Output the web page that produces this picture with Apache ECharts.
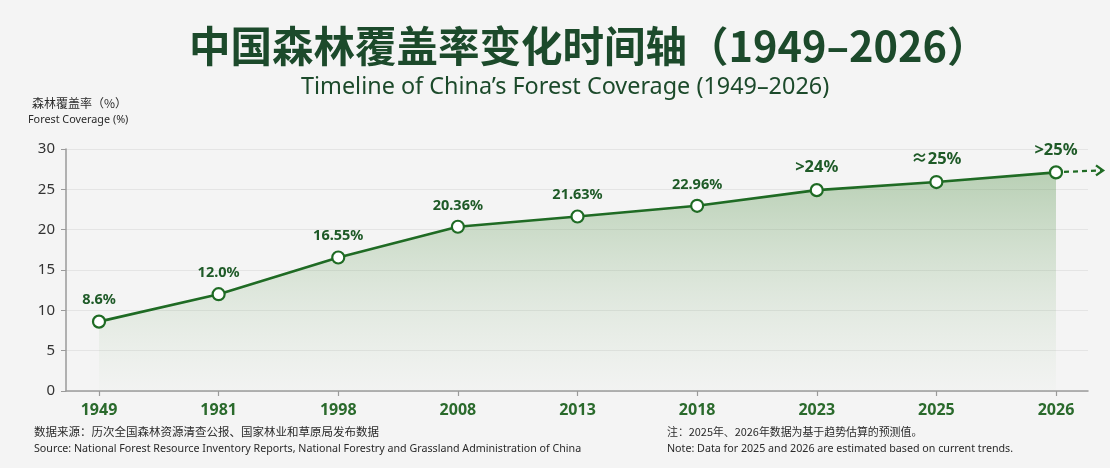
<!DOCTYPE html>
<html>
<head>
<meta charset="utf-8">
<script src="https://cdn.jsdelivr.net/npm/echarts@6/dist/echarts.min.js"></script>
<style>
html,body{margin:0;padding:0;background:#f4f4f4;}
#c{width:1110px;height:468px;}
</style>
</head>
<body>
<div id="c"></div>
<script>
const categories = ['1949', '1981', '1998', '2008', '2013', '2018', '2023', '2025', '2026'];
const coverage = [8.6, 12.0, 16.55, 20.36, 21.63, 22.96, 24.9, 25.9, 27.1];
const pointLabels = ['8.6%', '12.0%', '16.55%', '20.36%', '21.63%', '22.96%', '>24%', '≈25%', '>25%'];
const yMin = 0, yMax = 30, yStep = 5;

const titleText = '中国森林覆盖率变化时间轴（1949–2026）';
const subtitleText = 'Timeline of China’s Forest Coverage (1949–2026)';
const yNameCn = '森林覆盖率（%）';
const yNameEn = 'Forest Coverage (%)';
const sourceCn = '数据来源：历次全国森林资源清查公报、国家林业和草原局发布数据';
const sourceEn = 'Source: National Forest Resource Inventory Reports, National Forestry and Grassland Administration of China';
const noteCn = '注：2025年、2026年数据为基于趋势估算的预测值。';
const noteEn = 'Note: Data for 2025 and 2026 are estimated based on current trends.';

const CJK = '"Noto Sans CJK SC", "Noto Sans", sans-serif';
const LAT = '"Noto Sans", "Noto Sans CJK SC", sans-serif';
const GREEN = '#1f6b24';
const DARK = '#1c4a2b';

const chart = echarts.init(document.getElementById('c'), null, {renderer: 'canvas'});

const seriesData = coverage.map((v, i) => {
  const rough = /^[>≈<]/.test(pointLabels[i]);
  return {
    value: v,
    label: {formatter: pointLabels[i], fontSize: rough ? 16.5 : 14.5}
  };
});

const small = (text, left, top, fam, size) => ({
  text: text, left: left, top: top, padding: 0,
  textStyle: {fontFamily: fam, fontSize: size, fontWeight: 'normal', color: '#2a2a2a'}
});

const option = {
  backgroundColor: '#f4f4f4',
  animation: false,
  title: [
    {text: titleText, left: 189, top: 25, padding: 0,
     textStyle: {fontFamily: CJK, fontSize: 41.5, fontWeight: 'bold', color: DARK}},
    {text: subtitleText, left: 301, top: 76, padding: 0,
     textStyle: {fontFamily: LAT, fontSize: 23.4, fontWeight: 'normal', color: DARK}},
    small(yNameCn, 32, 97, CJK, 12),
    small(yNameEn, 28, 115, LAT, 10.8),
    small(sourceCn, 34, 426, CJK, 11.5),
    small(sourceEn, 34, 444, LAT, 10.7),
    small(noteCn, 667, 426, CJK, 10.9),
    small(noteEn, 667, 444, LAT, 10.7)
  ],
  grid: [
    {left: 66, right: 22, top: 149, bottom: 77},
    {left: 99, right: 54, top: 149, bottom: 77}
  ],
  xAxis: [
    {gridIndex: 0, type: 'value', min: 0, max: 1,
     axisLine: {show: true, onZero: false, lineStyle: {color: '#9a9a9a', width: 1.5}},
     axisTick: {show: false}, axisLabel: {show: false}, splitLine: {show: false}},
    {gridIndex: 1, type: 'category', data: categories, boundaryGap: false,
     axisLine: {show: false},
     axisTick: {show: true, length: 5, lineStyle: {color: '#9a9a9a', width: 1.2}},
     axisLabel: {fontFamily: LAT, fontSize: 16, fontWeight: 'bold', color: '#2a6a2c', margin: 11},
     splitLine: {show: false}}
  ],
  yAxis: [
    {gridIndex: 0, type: 'value', min: yMin, max: yMax, interval: yStep,
     axisLine: {show: true, lineStyle: {color: '#9a9a9a', width: 1.5}},
     axisTick: {show: true, length: 5, lineStyle: {color: '#9a9a9a'}},
     axisLabel: {fontFamily: LAT, fontSize: 15, color: '#333', margin: 11},
     splitLine: {show: true, lineStyle: {color: '#e4e4e4', width: 1}}},
    {gridIndex: 1, type: 'value', min: yMin, max: yMax, interval: yStep, show: false}
  ],
  series: [{
    type: 'line',
    xAxisIndex: 1,
    yAxisIndex: 1,
    data: seriesData,
    symbol: 'circle',
    symbolSize: 12,
    lineStyle: {color: GREEN, width: 2.6},
    itemStyle: {color: '#ffffff', borderColor: GREEN, borderWidth: 2.2},
    label: {show: true, position: 'top', distance: 7, fontFamily: LAT,
            fontWeight: 'bold', color: '#1e5a27'},
    areaStyle: {
      color: new echarts.graphic.LinearGradient(0, 0, 0, 1, [
        {offset: 0, color: 'rgba(90,150,80,0.55)'},
        {offset: 0.6, color: 'rgba(120,170,110,0.22)'},
        {offset: 1, color: 'rgba(150,190,140,0.03)'}
      ])
    },
    z: 3
  }]
};

chart.setOption(option);

// dashed trend arrow continuing from the last point
const lastIdx = coverage.length - 1;
const p = chart.convertToPixel({xAxisIndex: 1, yAxisIndex: 1}, [lastIdx, coverage[lastIdx]]);
const x1 = p[0] + 8, y1 = p[1] - 0.5;
const x2 = p[0] + 47, y2 = p[1] - 2;
chart.setOption({
  graphic: [
    {type: 'line', shape: {x1: x1, y1: y1, x2: x2 - 2, y2: y2},
     style: {stroke: GREEN, lineWidth: 2.2, lineDash: [5, 4]}, z: 10},
    {type: 'polyline', shape: {points: [[x2 - 7, y2 - 5], [x2, y2], [x2 - 7, y2 + 5]]},
     style: {stroke: GREEN, lineWidth: 2.4, fill: null}, z: 10}
  ]
});
</script>
</body>
</html>
